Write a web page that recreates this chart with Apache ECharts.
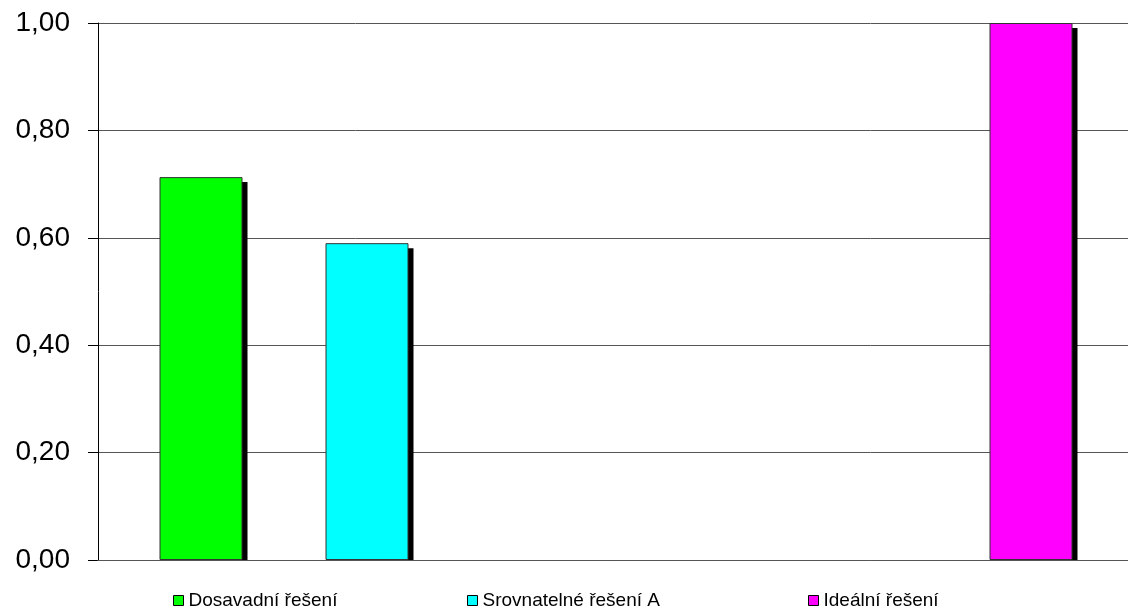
<!DOCTYPE html>
<html>
<head>
<meta charset="utf-8">
<script src="https://cdn.jsdelivr.net/npm/echarts@6/dist/echarts.min.js"></script>
<style>html,body{margin:0;padding:0;background:#fff;overflow:hidden;width:1128px;height:610px}#c{width:1140px;height:610px}</style>
</head>
<body>
<div id="c"></div>
<script>
const categories = [''];
const seriesNames = ['Dosavadní řešení', 'Srovnatelné řešení A', 's3', 's4', 's5', 'Ideální řešení'];
const seriesValues = [0.713, 0.59, null, null, null, 1.00];
const seriesColors = ['#00ff00', '#00ffff', '#999999', '#999999', '#999999', '#ff00ff'];
const yTicks = [0, 0.2, 0.4, 0.6, 0.8, 1.0];
const legendNames = ['Dosavadní řešení', 'Srovnatelné řešení A', 'Ideální řešení'];
const legendLeft = [173, 467, 808];

const SHADOW = 5;          // shadow offset in px
const PLOT_H = 537;        // plot height in px
const EXTRA = 12;          // canvas wider than window

const chart = echarts.init(document.getElementById('c'), null, {renderer: 'canvas'});

const shadowSeries = seriesNames.map((n, i) => ({
  name: '_shadow_' + i,
  type: 'bar',
  xAxisIndex: 2,
  yAxisIndex: 2,
  barWidth: 83,
  barGap: '100%',
  data: [seriesValues[i]],
  clip: true,
  z: 1,
  silent: true,
  itemStyle: {color: '#000000', borderWidth: 0},
  emphasis: {disabled: true}
}));
const mainSeries = seriesNames.map((n, i) => ({
  name: n,
  type: 'bar',
  xAxisIndex: 1,
  yAxisIndex: 1,
  barWidth: 83,
  barGap: '100%',
  data: [seriesValues[i]],
  clip: true,
  z: 3,
  itemStyle: {
    color: seriesColors[i],
    borderColor: '#333333',
    borderWidth: 1
  },
  emphasis: {disabled: true}
}));
const legends = legendNames.map((n, i) => ({
  data: [n],
  left: legendLeft[i],
  top: 591,
  itemWidth: 10,
  itemHeight: 10,
  itemGap: 4,
  icon: 'rect',
  selectedMode: false,
  itemStyle: {borderColor: '#000', borderWidth: 1},
  textStyle: {fontFamily: 'Liberation Sans, Arial, sans-serif', fontSize: 19, color: '#000'},
  padding: 0
}));
const hiddenX = g => ({type: 'category', gridIndex: g, data: categories, show: false});
chart.setOption({
  animation: false,
  grid: [
    {left: 98, right: EXTRA, top: 23, bottom: 50},
    {left: 101, right: EXTRA - 3, top: 23, bottom: 50},
    {left: 101 + SHADOW, right: EXTRA - 3 - SHADOW, top: 23 + SHADOW, bottom: 50}
  ],
  legend: legends,
  xAxis: [{
    type: 'category',
    gridIndex: 0,
    data: categories,
    axisLine: {show: true, lineStyle: {color: '#555', width: 1}},
    axisTick: {show: false},
    axisLabel: {show: false},
    z: 5
  }, hiddenX(1), hiddenX(2)],
  yAxis: [{
    type: 'value',
    gridIndex: 0,
    min: yTicks[0],
    max: yTicks[yTicks.length - 1],
    interval: 0.2,
    axisLine: {show: true, lineStyle: {color: '#000', width: 1}},
    axisTick: {show: true, length: 10, lineStyle: {color: '#000'}},
    splitLine: {show: true, lineStyle: {color: '#555', width: 1}},
    axisLabel: {
      margin: 28,
      fontFamily: 'Liberation Sans, Arial, sans-serif',
      fontSize: 28,
      color: '#000',
      formatter: v => v.toFixed(2).replace('.', ',')
    }
  }, {
    type: 'value',
    gridIndex: 1,
    min: yTicks[0],
    max: yTicks[yTicks.length - 1],
    show: false,
    splitLine: {show: false}
  }, {
    type: 'value',
    gridIndex: 2,
    min: SHADOW / PLOT_H,
    max: yTicks[yTicks.length - 1],
    show: false,
    splitLine: {show: false}
  }],
  series: shadowSeries.concat(mainSeries)
});
</script>
</body>
</html>
